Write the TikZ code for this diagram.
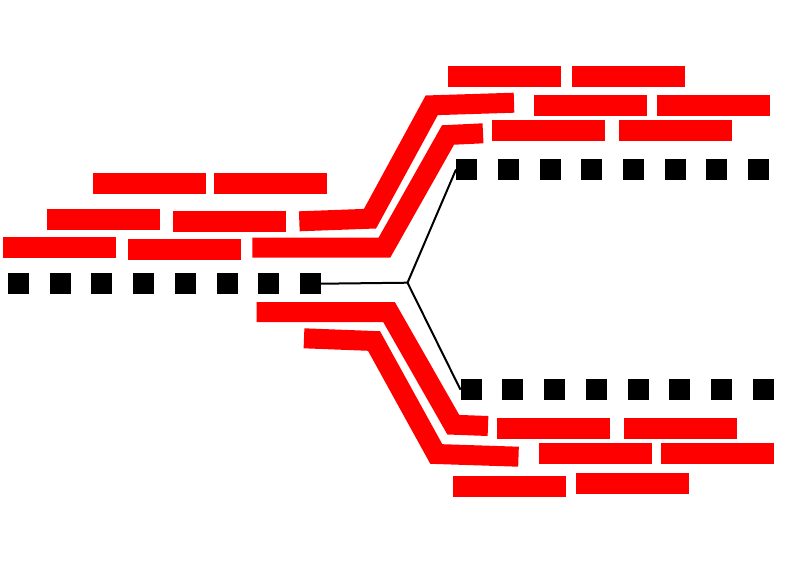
\documentclass[tikz,border=0pt]{standalone}
\usepackage{tikz}
\usetikzlibrary{positioning}

\begin{document}
\begin{tikzpicture}[
    x=1pt, y=-1pt,
    base/.style={rectangle, fill=black, minimum size=21pt, inner sep=0pt},
    brick/.style={rectangle, fill=red, minimum width=113pt, minimum height=21pt, inner sep=0pt},
    strand/.style={draw=red, line width=20pt, miter limit=10, line join=miter},
    fork/.style={draw=black, line width=2pt},
]
\useasboundingbox (0,0) rectangle (794,560);

% === PARENT STRAND (left) ===
\foreach \i in {1,...,8}
    \node[base] (lb\i) at ({18.5+(\i-1)*41.7},283.7) {};

% === DAUGHTER STRANDS (right) ===
\foreach \i in {1,...,8}
    \node[base] (ub\i) at ({466.7+(\i-1)*41.7},169.5) {};
\foreach \i in {1,...,8}
    \node[base] (db\i) at ({471.2+(\i-1)*41.7},389.7) {};

% === FRAGMENTS ===
\foreach \x/\y [count=\n] in {149/183.7, 270.3/183.7, 103.2/219.8, 229.8/221.3, 59.3/247.8, 184.7/249.3,
    504.2/76.3, 628.3/76.3, 590.7/105.5, 713.3/105.5, 548.8/130.7, 675.7/130.7,
    553.5/428.8, 680/428.8, 595.2/453.8, 717.5/453.8, 509.8/486, 632.7/483.3}
    \node[brick] (frag\n) at (\x,\y) {};

% === BENT FRAGMENTS ===
\draw[strand] (252.3,247.5) -- (384.5,247.5) -- (448,135) -- (483,133.3);
\draw[strand] (299.3,221.3) -- (370,218.7) -- (431.7,105.3) -- (514,102.7);
\draw[strand] (256.7,312) -- (389,312) -- (453.3,424.7) -- (488,426);
\draw[strand] (304,338.3) -- (374,341) -- (436.3,454) -- (518.5,456.7);

% === FORK ===
\coordinate (junction) at (407.5,282.7);
\draw[fork] (lb8.east) -- (junction);
\draw[fork] (junction) -- (ub1.west);
\draw[fork] (junction) -- (db1.west);

\end{tikzpicture}
\end{document}
